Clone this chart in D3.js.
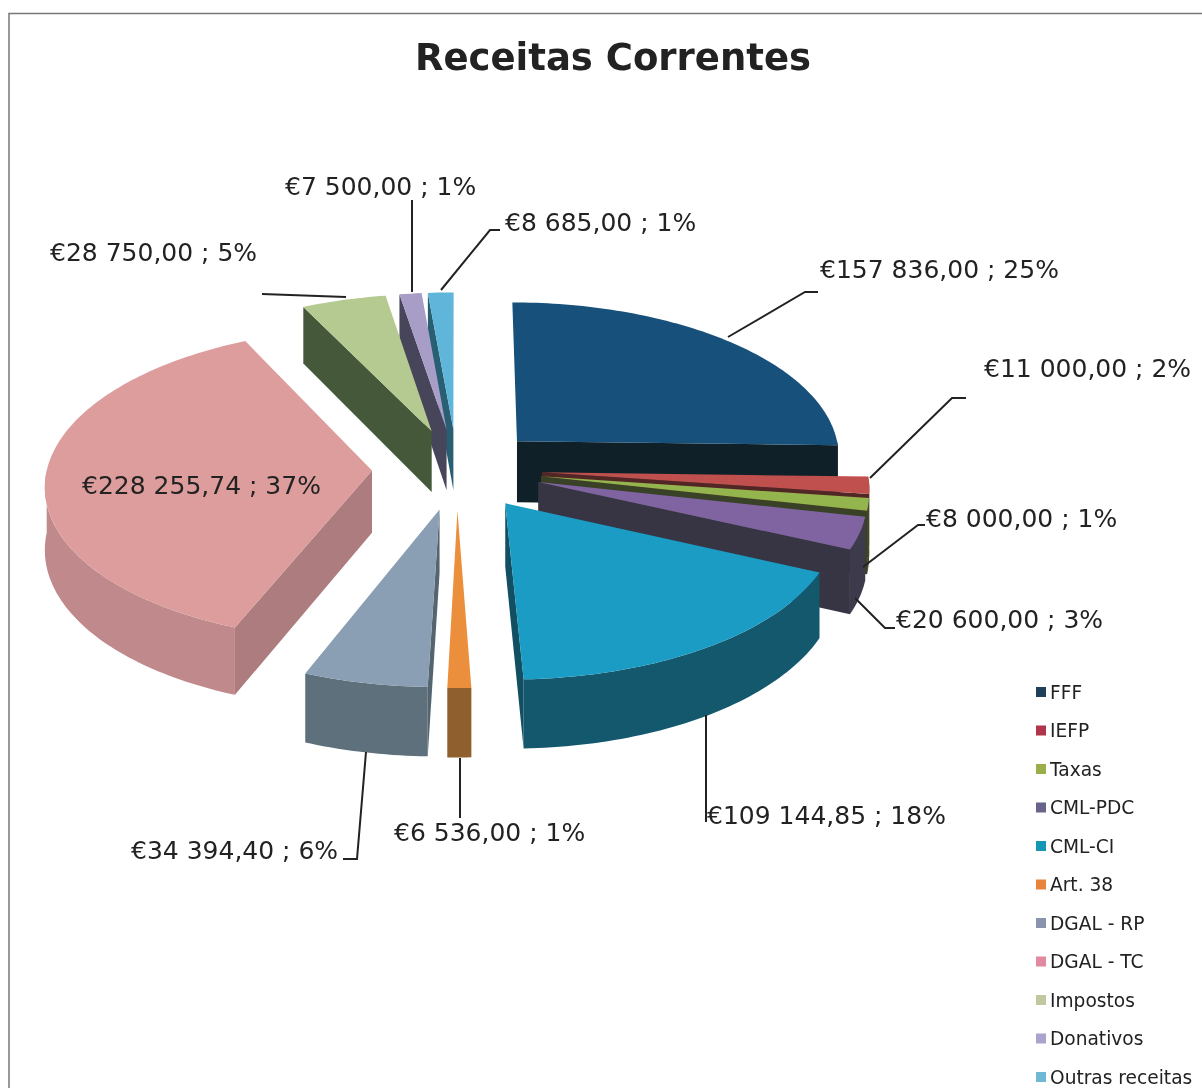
<!DOCTYPE html>
<html>
<head>
<meta charset="utf-8">
<script src="https://d3js.org/d3.v7.min.js"></script>
<style>
  html, body { margin: 0; padding: 0; background: #fff; }
  svg { display: block; filter: blur(0.5px); }
  text { font-family: "DejaVu Sans", Verdana, sans-serif; fill: #222; }
</style>
</head>
<body>
<svg width="1202" height="1088"></svg>
<script>
  // values
  var categories = ['FFF', 'IEFP', 'Taxas', 'CML-PDC', 'CML-CI', 'Art. 38', 'DGAL - RP', 'DGAL - TC', 'Impostos', 'Donativos', 'Outras receitas'];
  var values = [157836, 11000, 8000, 20600, 109144.85, 6536, 34394.40, 228255.74, 28750, 7500, 8685];

  var topColours = ['#17507a', '#c0504d', '#94b54e', '#8064a2', '#1a9cc4', '#ec8f3c', '#8a9fb4', '#dd9d9d', '#b5ca90', '#a79dc6', '#5fb6da'];
  var wallColours = ['#12242c', '#5c2a2a', '#3f4a2a', '#3d3a4c', '#14586e', '#8f5f2e', '#5e707c', '#c08a8c', '#4d6240', '#4f4d63', '#2d6a80'];
  var legendColours = ['#1f3f5a', '#b0344a', '#9aae4a', '#66648a', '#1496b4', '#e8843c', '#8a94ac', '#e08aa0', '#c0c8a0', '#a8a4cc', '#70b8d4'];

  var title = 'Receitas Correntes';

  // label anchor (left x, middle y) and leader line, same order as categories
  var labelSpots = [[820, 269], [984, 368], [926, 518], [896, 619], [707, 815], [394, 832], [131, 850], [82, 485], [50, 252], [285, 186], [505, 222]];
  var leaders = [
    [[728, 337], [805, 292], [818, 292]],
    [[870, 478], [952, 398], [966, 398]],
    [[863, 567], [918, 525], [925, 525]],
    [[855, 598], [885, 628], [895, 628]],
    [[706, 715], [706, 822]],
    [[460, 758], [460, 818]],
    [[366, 752], [357, 859], [343, 859]],
    [],
    [[346, 297], [262, 294]],
    [[412, 292], [412, 200]],
    [[441, 290], [490, 230], [500, 230]]
  ];

  var svg = d3.select('svg');

  // scanned page frame
  svg.append('path')
    .attr('d', 'M9,1088V13.5H1202')
    .attr('fill', 'none')
    .attr('stroke', '#777')
    .attr('stroke-width', 1.5);

  svg.append('text')
    .attr('x', 613)
    .attr('y', 70)
    .attr('text-anchor', 'middle')
    .attr('font-size', 37)
    .attr('font-weight', 'bold')
    .text(title);

  // 3D pie projection
  var cx = 457, cy = 469, radius = 325, explode = 85, tilt = 0.477, persp = 0.085, depth = 62;

  function project(u, v, z) {
    var s = 1 / (1 - persp * v / radius);
    return [cx + u * s, cy + (v * tilt + z) * s];
  }

  var total = d3.sum(values);
  var pie = d3.pie().sort(null);
  var arcs = pie(values).map(function(d) {
    d.mid = (d.startAngle + d.endAngle) / 2;
    d.u0 = explode * Math.sin(d.mid);
    d.v0 = -explode * Math.cos(d.mid);
    return d;
  });

  function rim(d, a) {
    return { u: d.u0 + radius * Math.sin(a), v: d.v0 - radius * Math.cos(a) };
  }

  function rimAngles(d, from, to) {
    var n = Math.max(2, Math.ceil((to - from) / 0.02));
    return d3.range(n + 1).map(function(i) { return from + (to - from) * i / n; });
  }

  var line = d3.line();

  function cutFace(d, a) {
    var p = rim(d, a);
    return [project(d.u0, d.v0, 0), project(p.u, p.v, 0), project(p.u, p.v, depth), project(d.u0, d.v0, depth)];
  }

  var order = arcs.slice().sort(function(a, b) { return a.v0 - b.v0; });

  var slices = svg.selectAll('.slice')
    .data(order)
    .enter()
    .append('g')
    .attr('class', 'slice');

  slices.each(function(d) {
    var g = d3.select(this);
    var wall = wallColours[d.index];

    // cut faces that look towards the viewer
    if (Math.sin(d.startAngle) < 0) {
      g.append('path').attr('d', line(cutFace(d, d.startAngle)) + 'Z')
        .attr('fill', d3.color(wall).darker(0.3));
    }
    if (Math.sin(d.endAngle) > 0.001) {
      g.append('path').attr('d', line(cutFace(d, d.endAngle)) + 'Z')
        .attr('fill', d3.color(wall).darker(0.3));
    }

    // outer wall, front half of the rim only
    var from = Math.max(d.startAngle, Math.PI / 2);
    var to = Math.min(d.endAngle, Math.PI * 1.5);
    if (to > from) {
      var angles = rimAngles(d, from, to);
      var upper = angles.map(function(a) { var p = rim(d, a); return project(p.u, p.v, 0); });
      var lower = angles.slice().reverse().map(function(a) { var p = rim(d, a); return project(p.u, p.v, depth); });
      g.append('path').attr('d', line(upper.concat(lower)) + 'Z').attr('fill', wall);
    }

    // top
    var rimPts = rimAngles(d, d.startAngle, d.endAngle).map(function(a) {
      var p = rim(d, a);
      return project(p.u, p.v, 0);
    });
    g.append('path')
      .attr('d', line([project(d.u0, d.v0, 0)].concat(rimPts)) + 'Z')
      .attr('fill', topColours[d.index]);
  });

  // leader lines
  svg.selectAll('.leader')
    .data(leaders.filter(function(l) { return l.length; }))
    .enter()
    .append('path')
    .attr('class', 'leader')
    .attr('d', line)
    .attr('fill', 'none')
    .attr('stroke', '#222')
    .attr('stroke-width', 2);

  // data labels
  var money = d3.formatLocale({ decimal: ',', thousands: ' ', grouping: [3], currency: ['€', ''] }).format('$,.2f');

  svg.selectAll('.label')
    .data(values)
    .enter()
    .append('text')
    .attr('class', 'label')
    .attr('x', function(d, i) { return labelSpots[i][0]; })
    .attr('y', function(d, i) { return labelSpots[i][1]; })
    .attr('dy', '0.36em')
    .attr('font-size', 25)
    .text(function(d) { return money(d) + ' ; ' + Math.round(d / total * 100) + '%'; });

  // legend
  var legendY = d3.scalePoint().domain(categories).range([692, 1077]);

  var legend = svg.selectAll('.legend')
    .data(categories)
    .enter()
    .append('g')
    .attr('class', 'legend')
    .attr('transform', function(d) { return 'translate(1036,' + legendY(d) + ')'; });

  legend.append('rect')
    .attr('y', -5)
    .attr('width', 10)
    .attr('height', 10)
    .attr('fill', function(d, i) { return legendColours[i]; });

  legend.append('text')
    .attr('x', 14)
    .attr('dy', '0.36em')
    .attr('font-size', 18.6)
    .text(function(d) { return d; });
</script>
</body>
</html>
